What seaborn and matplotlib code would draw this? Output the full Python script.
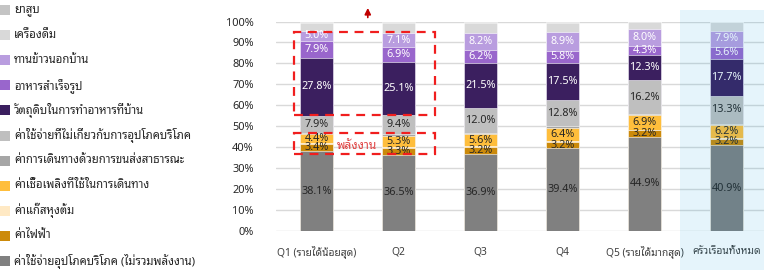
import numpy as np
import pandas as pd
import seaborn as sns
import matplotlib
matplotlib.use("Agg")
import matplotlib.pyplot as plt
from matplotlib.patches import Rectangle

# categories (x axis)
groups = ["Q1 (รายได้น้อยสุด)", "Q2", "Q3", "Q4", "Q5 (รายได้มากสุด)", "ครัวเรือนทั้งหมด"]

# series, bottom of the stack first (percent of spending)
consumer = [38.1, 36.5, 36.9, 39.4, 44.9, 40.9]
electricity = [3.4, 3.3, 3.2, 3.2, 3.2, 3.2]
cooking_gas = [0.4, 0.4, 0.4, 0.4, 0.3, 0.4]
fuel = [4.4, 5.3, 5.6, 6.4, 6.9, 6.2]
public_transport = [0.7, 0.7, 0.6, 0.5, 0.4, 0.5]
non_consumption = [7.9, 9.4, 12.0, 12.8, 16.2, 13.3]
home_cooking = [27.8, 25.1, 21.5, 17.5, 12.3, 17.7]
ready_meals = [7.9, 6.9, 6.2, 5.8, 4.3, 5.6]
eating_out = [5.0, 7.1, 8.2, 8.9, 8.0, 7.9]
drinks = [3.9, 4.8, 4.9, 4.6, 3.3, 3.9]
tobacco = [0.5, 0.5, 0.5, 0.5, 0.5, 0.4]

series_names = [
    "ค่าใช้จ่ายอุปโภคบริโภค (ไม่รวมพลังงาน)",
    "ค่าไฟฟ้า",
    "ค่าแก๊สหุงต้ม",
    "ค่าเชื้อเพลิงที่ใช้ในการเดินทาง",
    "ค่าการเดินทางด้วยการขนส่งสาธารณะ",
    "ค่าใช้จ่ายที่ไม่เกี่ยวกับการอุปโภคบริโภค",
    "วัตถุดิบในการทำอาหารที่บ้าน",
    "อาหารสำเร็จรูป",
    "ทานข้าวนอกบ้าน",
    "เครื่องดื่ม",
    "ยาสูบ",
]
series_values = [consumer, electricity, cooking_gas, fuel, public_transport,
                 non_consumption, home_cooking, ready_meals, eating_out, drinks, tobacco]
colors = ["#808080", "#CC8A0A", "#FFE9C4", "#FFBE3C", "#A6A6A6", "#BFBFBF",
          "#3B1F5F", "#9966CC", "#B99DDF", "#D9D9D9", "#C4C4C4"]
labelled = [True, True, False, True, False, True, True, True, True, False, False]
white_text = [False, False, False, False, False, False, True, True, True, False, False]

df = pd.DataFrame(dict(zip(series_names, series_values)))
df.insert(0, "group", groups)
cum = df[series_names].cumsum(axis=1)

FONT = ["Noto Sans", "Noto Sans Thai Looped", "DejaVu Sans"]
sns.set_style("white")
plt.rcParams["font.family"] = FONT

fig = plt.figure(figsize=(7.64, 2.7), dpi=100)
ax = fig.add_axes([0.361, 0.1444, 0.639, 0.7759])

# stacked bars: draw cumulative totals from the top layer down
for i in range(len(series_names) - 1, -1, -1):
    sns.barplot(x=df["group"], y=cum[series_names[i]], color=colors[i],
                width=0.4, saturation=1, ax=ax, edgecolor="white", linewidth=0.4)

# segment value labels
for i, name in enumerate(series_names):
    if not labelled[i]:
        continue
    for j in range(len(groups)):
        v = df[name][j]
        mid = cum[name][j] - v / 2
        ax.text(j, mid, f"{v:.1f}%", ha="center", va="center", fontsize=7.8,
                color="white" if white_text[i] else "#262626")

ax.set_xlim(-0.5, 5.455)
ax.set_ylim(0, 100)
ax.set_yticks(np.arange(0, 101, 10))
ax.set_yticklabels([f"{t}%" for t in range(0, 101, 10)])
ax.yaxis.grid(True, color="#D9D9D9", linewidth=1)
ax.set_axisbelow(True)
for s in ax.spines.values():
    s.set_visible(False)
ax.tick_params(axis="y", length=0, pad=16, labelsize=7.9, labelcolor="#262626")
ax.tick_params(axis="x", length=0, pad=11, labelsize=7.4, labelcolor="#404040")
ax.set_xlabel("")
ax.set_ylabel("")
ax.set_facecolor("none")

# red dashed call-out boxes and labels
red = "#F01E1E"
ax.add_patch(Rectangle((-0.273, 55.4), 1.716, 39.7, fill=False, edgecolor=red,
                       linewidth=1.6, linestyle=(0, (4, 3)), clip_on=False, zorder=5))
ax.add_patch(Rectangle((-0.273, 36.8), 1.716, 9.8, fill=False, edgecolor=red,
                       linewidth=1.6, linestyle=(0, (4, 3)), clip_on=False, zorder=5))
ax.text(0.49, 40.9, "พลังงาน", color="#E04040", fontsize=8.6, ha="center", va="center", zorder=6)
ax.annotate("", xy=(0.622, 107.8), xytext=(0.622, 100.6),
            arrowprops=dict(arrowstyle="-|>", color="#C00000", lw=1.2, mutation_scale=9),
            annotation_clip=False)

# legend on the left, top entry first
for k, i in enumerate(range(len(series_names) - 1, -1, -1)):
    y_px = 10 + k * 25.1
    yf = 1 - y_px / 270
    fig.patches.append(Rectangle((0, yf - 5 / 270), 10 / 764, 10 / 270,
                                 transform=fig.transFigure, facecolor=colors[i],
                                 edgecolor="none"))
    fig.text(14 / 764, yf, series_names[i], ha="left", va="center", fontsize=8.2,
             color="#262626")

# light blue highlight over the whole-household column
fig.patches.append(Rectangle((680 / 764, 0), 84 / 764, 260 / 270, transform=fig.transFigure,
                             facecolor=(0.0, 0.6, 0.85), alpha=0.1, edgecolor="none",
                             zorder=10))

fig.savefig("out.png", dpi=100)
